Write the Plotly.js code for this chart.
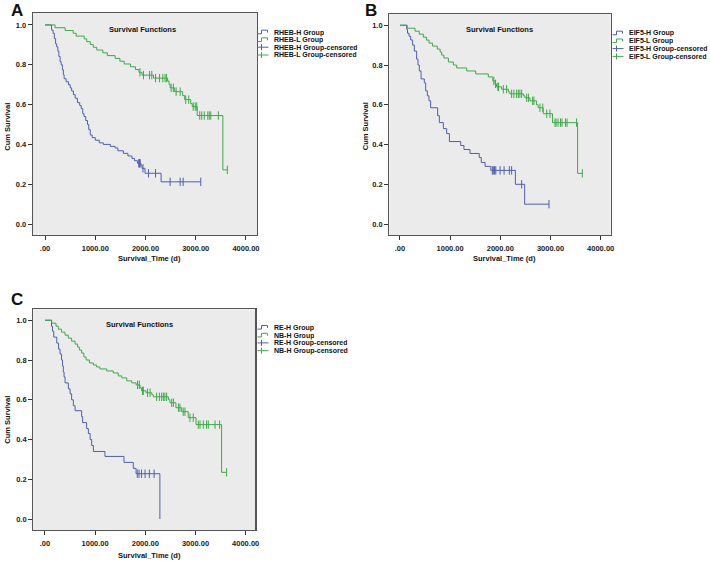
<!DOCTYPE html>
<html>
<head>
<meta charset="utf-8">
<script src="https://cdn.plot.ly/plotly-3.0.1.min.js"></script>
<style>html,body{margin:0;padding:0;background:#fff;}#chart{width:710px;height:562px;}</style>
</head>
<body>
<div id="chart"></div>
<script>
// ---------- tick labels ----------
const xTickVals = [0, 1000, 2000, 3000, 4000];
const xTickText = ['.00', '1000.00', '2000.00', '3000.00', '4000.00'];
const yTickVals = [0, 0.2, 0.4, 0.6, 0.8, 1.0];
const yTickText = ['0.0', '0.2', '0.4', '0.6', '0.8', '1.0'];

// ---------- Panel A ----------
const A_names = ['RHEB-H Group', 'RHEB-L Group', 'RHEB-H Group-censored', 'RHEB-L Group-censored'];
const A_H_time = [130,160,185,210,232,255,275,300,320,345,365,380,420,465,500,530,565,600,645,690,720,750,775,810,845,870,900,940,1000,1080,1160,1300,1395,1450,1560,1650,1730,1780,1840,1910,1930,1990,2310];
const A_H_surv = [.974,.958,.932,.905,.89,.868,.842,.816,.80,.775,.75,.73,.715,.70,.684,.668,.65,.632,.61,.595,.58,.555,.54,.52,.50,.474,.447,.434,.421,.408,.40,.39,.382,.368,.355,.342,.33,.318,.305,.295,.28,.255,.212];
const A_H_cens = [1865,1880,1895,1950,2060,2200,2490,2690,2750,3100];
const A_L_time = [200,400,560,620,780,830,900,960,1030,1150,1240,1395,1490,1575,1700,1800,1870,1930,2160,2440,2470,2490,2580,2740,2780,2900,2930,3030,3540];
const A_L_surv = [.986,.972,.958,.944,.93,.916,.902,.888,.874,.86,.846,.832,.818,.804,.79,.776,.762,.748,.733,.718,.70,.684,.665,.645,.625,.605,.59,.545,.272];
const A_L_cens = [1890,1960,2080,2125,2200,2280,2345,2390,2420,2510,2555,2610,2690,2800,2860,2950,2990,3020,3080,3120,3170,3240,3270,3300,3450,3630];

// ---------- Panel B ----------
const B_names = ['EIF5-H Group', 'EIF5-L Group', 'EIF5-H Group-censored', 'EIF5-L Group-censored'];
const B_H_time = [133,150,180,213,252,286,332,359,385,420,485,512,545,578,611,751,785,865,930,985,1210,1275,1395,1580,1620,1695,1810,2300,2485];
const B_H_surv = [.98,.96,.945,.926,.90,.87,.83,.80,.77,.73,.71,.67,.645,.62,.585,.545,.51,.48,.455,.415,.395,.375,.355,.335,.31,.29,.27,.20,.10];
const B_H_cens = [1840,1860,1885,1910,1995,2075,2180,2225,2425,2970];
const B_L_time = [145,300,385,465,530,580,650,745,800,830,875,965,1065,1130,1330,1510,1760,1850,1895,1925,2025,2160,2190,2460,2490,2590,2720,2755,2855,3040,3540];
const B_L_surv = [.985,.97,.955,.94,.925,.91,.895,.88,.865,.85,.835,.815,.80,.785,.77,.755,.74,.72,.705,.69,.678,.665,.655,.645,.635,.62,.60,.585,.555,.51,.255];
const B_L_cens = [1870,1905,1950,1965,2060,2125,2225,2270,2325,2360,2390,2425,2525,2560,2645,2670,2790,2845,2925,2990,3090,3110,3150,3200,3230,3300,3330,3520,3635];

// ---------- Panel C ----------
const C_names = ['RE-H Group', 'NB-H Group', 'RE-H Group-censored', 'NB-H Group-censored'];
const C_H_time = [130,150,175,235,270,300,330,350,365,380,400,465,500,530,565,600,730,750,830,865,900,930,965,1195,1575,1760,1815,2290];
const C_H_surv = [.97,.945,.915,.885,.855,.83,.80,.77,.74,.715,.685,.655,.63,.60,.57,.545,.515,.485,.455,.43,.40,.37,.34,.315,.285,.255,.228,0];
const C_H_cens = [1840,1875,1925,1995,2080,2175];
const C_L_time = [135,220,265,330,400,465,530,600,650,685,730,775,820,885,965,1030,1095,1230,1360,1460,1530,1630,1730,1815,1895,1925,2015,2130,2160,2460,2490,2610,2725,2855,3010,3520];
const C_L_surv = [.985,.97,.955,.94,.925,.91,.895,.88,.865,.85,.835,.815,.80,.785,.775,.765,.755,.745,.735,.72,.71,.695,.685,.675,.66,.645,.635,.625,.615,.60,.585,.56,.54,.51,.475,.235];
const C_L_cens = [1845,1880,1945,1960,2045,2095,2225,2280,2325,2360,2390,2425,2525,2560,2660,2690,2755,2790,2890,2955,3055,3090,3155,3220,3255,3390,3480,3620];

// ---------- styling ----------
const BLUE = '#4f5fae';
const GREEN = '#3daa48';
const FONT = 'Liberation Sans, Arial, sans-serif';
const W = 710, H = 562;

function survAt(times, surv, t) {
  let s = 1;
  for (let i = 0; i < times.length; i++) { if (times[i] <= t) s = surv[i]; }
  return s;
}
function stepTrace(times, surv, cens, color, xa, ya) {
  const lastT = Math.max(times[times.length - 1], cens.length ? cens[cens.length - 1] : 0);
  const x = [0].concat(times);
  const y = [1].concat(surv);
  if (lastT > times[times.length - 1]) { x.push(lastT); y.push(surv[surv.length - 1]); }
  return {type: 'scatter', mode: 'lines', x: x, y: y, xaxis: xa, yaxis: ya,
    line: {shape: 'hv', color: color, width: 1}, hoverinfo: 'skip'};
}
function censTrace(times, surv, cens, color, xa, ya) {
  return {type: 'scatter', mode: 'markers', x: cens, y: cens.map(t => survAt(times, surv, t)),
    xaxis: xa, yaxis: ya, hoverinfo: 'skip',
    marker: {symbol: 'line-ns-open', size: 6, color: color, line: {color: color, width: 1}}};
}

const data = [
  stepTrace(A_H_time, A_H_surv, A_H_cens, BLUE, 'x', 'y'),
  stepTrace(A_L_time, A_L_surv, A_L_cens, GREEN, 'x', 'y'),
  censTrace(A_H_time, A_H_surv, A_H_cens, BLUE, 'x', 'y'),
  censTrace(A_L_time, A_L_surv, A_L_cens, GREEN, 'x', 'y'),
  stepTrace(B_H_time, B_H_surv, B_H_cens, BLUE, 'x2', 'y2'),
  stepTrace(B_L_time, B_L_surv, B_L_cens, GREEN, 'x2', 'y2'),
  censTrace(B_H_time, B_H_surv, B_H_cens, BLUE, 'x2', 'y2'),
  censTrace(B_L_time, B_L_surv, B_L_cens, GREEN, 'x2', 'y2'),
  {type: 'scatter', mode: 'lines', x: [0].concat(C_H_time), y: [1].concat(C_H_surv), xaxis: 'x3', yaxis: 'y3',
    line: {shape: 'hv', color: BLUE, width: 1}, hoverinfo: 'skip'},
  stepTrace(C_L_time, C_L_surv, C_L_cens, GREEN, 'x3', 'y3'),
  censTrace(C_H_time, C_H_surv, C_H_cens, BLUE, 'x3', 'y3'),
  censTrace(C_L_time, C_L_surv, C_L_cens, GREEN, 'x3', 'y3')
];

const tickFont = {family: FONT, size: 7.5, weight: 700, color: '#1a1a1a'};
function xAxis(domain, range, anchor) {
  return {domain: domain, range: range, anchor: anchor, tickvals: xTickVals, ticktext: xTickText,
    ticks: 'outside', ticklen: 4, tickwidth: 1, tickcolor: '#333', ticklabelstandoff: 2,
    showline: true, linecolor: '#555', linewidth: 1.2, mirror: true,
    showgrid: false, zeroline: false, tickfont: tickFont, fixedrange: true};
}
function yAxis(domain, range, anchor) {
  return {domain: domain, range: range, anchor: anchor, tickvals: yTickVals, ticktext: yTickText,
    ticks: 'outside', ticklen: 4, tickwidth: 1, tickcolor: '#333',
    showline: true, linecolor: '#555', linewidth: 1.2, mirror: true,
    showgrid: false, zeroline: false, tickfont: tickFont, fixedrange: true};
}
const px = v => v / W;
const py = v => 1 - v / H;

const annotations = [];
const shapes = [];
function txt(text, x, y, size, opts) {
  annotations.push(Object.assign({text: text, x: px(x), y: py(y), xref: 'paper', yref: 'paper',
    showarrow: false, xanchor: 'center', yanchor: 'middle', borderpad: 0,
    font: {family: FONT, size: size, weight: 700, color: '#111'}}, opts || {}));
}
// panel letters
txt('A', 10, 10.5, 17, {xanchor: 'left'});
txt('B', 364, 10.5, 17, {xanchor: 'left'});
txt('C', 10, 300, 17, {xanchor: 'left'});
// inner titles
txt('Survival Functions', 142.5, 29.3, 7.5);
txt('Survival Functions', 499.5, 29.3, 7.5);
txt('Survival Functions', 139.7, 324.3, 7.5);
// axis titles
txt('Survival_Time (d)', 149.2, 258, 7.5);
txt('Survival_Time (d)', 504, 258.3, 7.5);
txt('Survival_Time (d)', 149.5, 555.3, 7.5);
txt('Cum Survival', 6.7, 127, 7.5, {textangle: -90});
txt('Cum Survival', 365.5, 126.7, 7.5, {textangle: -90});
txt('Cum Survival', 6.7, 420, 7.5, {textangle: -90});

// legends
function legend(names, x0, rows) {
  const colors = [BLUE, GREEN, BLUE, GREEN];
  for (let i = 0; i < 4; i++) {
    const y = rows[i];
    const c = colors[i];
    if (i < 2) {
      shapes.push({type: 'path', xref: 'paper', yref: 'paper',
        path: `M${px(x0)},${py(y + 1.8)} L${px(x0 + 4)},${py(y + 1.8)} L${px(x0 + 4)},${py(y - 1.8)} L${px(x0 + 10)},${py(y - 1.8)} L${px(x0 + 10)},${py(y + 0.6)}`,
        line: {color: c, width: 1}});
    } else {
      shapes.push({type: 'line', xref: 'paper', yref: 'paper', x0: px(x0), x1: px(x0 + 11), y0: py(y), y1: py(y), line: {color: c, width: 1}});
      shapes.push({type: 'line', xref: 'paper', yref: 'paper', x0: px(x0 + 4), x1: px(x0 + 4), y0: py(y - 3), y1: py(y + 3), line: {color: c, width: 1}});
    }
    txt(names[i], x0 + 15, y, 7, {xanchor: 'left', height: 7.4, valign: 'middle'});
  }
}
legend(A_names, 257.5, [32.0, 39.7, 47.2, 55.0]);
legend(B_names, 612.5, [33.0, 40.8, 48.6, 56.4]);
legend(C_names, 257.5, [327.3, 335.1, 342.9, 350.7]);

const layout = {
  width: W, height: H, margin: {l: 0, r: 0, t: 0, b: 0},
  paper_bgcolor: '#ffffff', plot_bgcolor: '#ebebeb', showlegend: false,
  font: {family: FONT},
  xaxis: xAxis([px(33), px(257)], [-240, 4220], 'y'),
  yaxis: yAxis([py(235), py(13)], [-0.055, 1.06], 'x'),
  xaxis2: xAxis([px(389.3), px(610.7)], [-213, 4200], 'y2'),
  yaxis2: yAxis([py(235), py(14.3)], [-0.055, 1.055], 'x2'),
  xaxis3: xAxis([px(33.3), px(255.3)], [-233, 4192], 'y3'),
  yaxis3: yAxis([py(530), py(309.3)], [-0.055, 1.055], 'x3'),
  annotations: annotations,
  shapes: shapes
};

Plotly.newPlot('chart', data, layout, {displayModeBar: false, staticPlot: true});
</script>
</body>
</html>
